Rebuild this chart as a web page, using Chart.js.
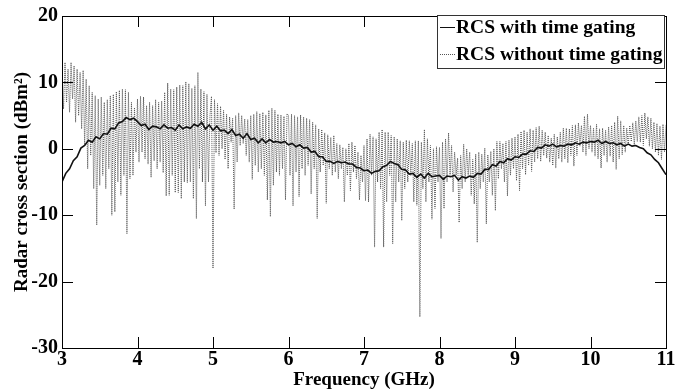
<!DOCTYPE html>
<html>
<head>
<meta charset="utf-8">
<script src="https://cdn.jsdelivr.net/npm/chart.js@4"></script>
<style>
  html, body { margin: 0; padding: 0; background: #fff; }
  canvas { display: block; }
</style>
</head>
<body>
<canvas id="rcsChart" width="688" height="391"></canvas>
<script>
// axis limits (GHz / dBm^2)
const freqMin = 3;
const freqMax = 11;
const rcsMin = -30;
const rcsMax = 20;

const seriesNames = ['RCS with time gating', 'RCS without time gating'];

// RCS with time gating, sampled every 0.05 GHz from 3 to 11 GHz (one row per GHz)
const gatedStep = 0.05;
const rcsWithGating = [
    -5.0, -3.7, -3.0, -1.8, -1.2, 0.1, 0.5, 1.3, 1.0, 1.8, 1.5, 2.3, 2.2, 3.1, 3.0, 3.9, 4.1, 4.7, 4.4, 4.6,
    4.1, 3.5, 3.7, 2.9, 3.4, 3.3, 3.0, 3.6, 3.1, 3.2, 2.8, 3.6, 3.0, 3.3, 3.1, 3.7, 3.4, 4.0, 3.0, 3.6,
    2.8, 3.4, 2.7, 2.8, 2.3, 2.9, 2.0, 2.2, 1.6, 2.3, 1.4, 1.6, 0.9, 1.5, 0.9, 1.4, 1.0, 1.1, 0.9, 1.1,
    0.6, 0.8, 0.3, 0.6, 0.1, 0.2, -0.5, -0.4, -1.2, -1.2, -1.9, -1.9, -2.2, -1.9, -2.1, -2.0, -2.3, -2.3, -2.8, -2.9,
    -3.3, -3.2, -3.7, -3.4, -3.3, -2.7, -2.5, -1.9, -2.2, -2.4, -3.1, -3.2, -3.8, -3.7, -4.3, -3.8, -4.4, -3.7, -4.2, -4.1,
    -4.0, -4.6, -4.1, -4.2, -4.0, -4.7, -4.2, -4.4, -4.1, -4.3, -3.7, -3.8, -3.1, -3.1, -2.4, -2.6, -1.9, -2.1, -1.5, -1.7,
    -1.2, -1.3, -0.8, -0.8, -0.3, -0.4, 0.2, 0.1, 0.6, 0.4, 0.7, 0.3, 0.5, 0.4, 0.7, 0.6, 0.9, 0.7, 1.0, 0.9,
    1.1, 1.0, 1.3, 0.8, 1.1, 0.8, 0.9, 0.6, 0.8, 0.4, 0.7, 0.4, 0.5, 0.2, 0.0, -0.6, -0.9, -1.6, -2.1, -3.0,
    -3.9
];

// RCS without time gating, sampled every 0.02 GHz (one row per GHz)
const rawStep = 0.02;
const rcsWithoutGating = [
    12.5, 6, 13, 7, 12, 5.5, 13, 7.5, 12.5, 4, 12, 5, 11.5, 3, 11.8, 0.5, 10.5, -3, 9.5, -1, 8.5, -6, 8, -11.5, 7.5, -5.5, 7.8, -4, 7, -6, 7.4, -3, 8, -10, 8.2, -9.5, 8.6, -5, 8.8, -7, 9, -4, 8.9, -12.8, 8.5, -4.5, 7, -4, 6.2, -0.5,
    7.5, -2, 7.9, -0.5, 7.8, -1.5, 6.5, -2.3, 7, -4.3, 6.5, -1.8, 7.4, -3, 7, -2, 7.2, -3.6, 8.5, -7.1, 9.9, -7, 9, -4, 8.9, -6.6, 9.3, -6.6, 9.6, -7.5, 9.5, -5, 10.1, -5.1, 9.8, -5, 9.1, -7.5, 9.5, -10.5, 11.5, -3, 9, -5, 8.6, -8.6, 8.2, -5, 5, 7.9,
    -18, 7.4, -0.6, 6.8, -1, 6.4, 0, 5.8, -1.6, 5.2, -3, 4.8, 1, 4.6, -9.1, 5, -2, 5.4, 0.5, 5, 0.8, 4.5, -1, 4.4, -2, 5, -4.6, 5.2, -2.5, 5.6, -3.5, 5.3, -3, 5.5, -4, 5.1, -7.7, 5.8, -10.2, 6.1, -5.5, 5.8, -3.5, 5.2, -4, 5.1, -3, 4.9, -7.7, 5.3,
    5.0, -4, 5.2, -8.6, 5.0, -3.5, 4.8, -7.2, 5.1, -3, 4.8, -4, 4.6, -2.5, 4.4, -6.8, 4.0, -3, 3.6, -10.5, 3.0, -3.5, 2.9, -2.5, 2.4, -8.2, 2.1, -3, 1.7, -4, 2.0, -3.5, 0.8, -4.5, 0.6, -3, 0.2, -8, 0.0, -4, 0.8, -6.3, 1.0, -3.5, 0.5, -4.5, -0.5, -7.7, -1.0, -5,
    0.5, -7.8, 1.5, -8, 2.2, -4, 1.8, -14.8, 1.5, -5, 2.5, -6, 2.9, -14.8, 2.5, -8, 2.5, -4, 2.0, -14.3, 1.8, -8, 1.5, -5, 1.2, -10.8, 1.0, -6, 1.3, -5, 1.2, -4, 0.8, -8, 1.2, -8.5, 1.2, -25.3, 1.0, -6, 2.9, -8, 1.5, -5, 0.5, -10.6, 0.0, -9, 0.3, -5,
    0.2, -13.5, 1.0, -9, 1.5, -5, 2.4, -4, 0.5, -6.5, -0.5, -4, -1.4, -11.1, -1, -6, 0.7, -5, 0.0, -4, -0.5, -7, -1.6, -8.3, -0.8, -14.1, -0.5, -6, -0.8, -5, 0.1, -11.3, -0.9, -5, -0.4, -7, 0.0, -9.3, 1.1, -4.5, 1.1, -3, 0.8, -5, 1.1, -7.1, 1.3, -4, 1.6, -3,
    1.8, -4.8, 2.2, -6.3, 2.6, -3, 2.8, -3.9, 2.5, -2.5, 3.0, -3.4, 2.8, -2, 3.2, -1.5, 3.4, -1.9, 2.8, -1, 2.5, -1.4, 2.0, -2, 1.6, -2.5, 2.2, -2.9, 1.8, -1.5, 2.5, -2, 3.1, -1.5, 3.1, -2.1, 3.0, -1, 3.5, -2.6, 3.6, -1, 3.9, 0.4, 3.5, -0.5, 4.9, -1, 5.2, 0,
    3.5, -0.5, 3.1, -1.1, 3.7, -1.5, 3.0, -2.9, 3.1, -1, 2.8, -2, 3.3, -1.1, 3.5, -2, 4.0, -3.1, 4.9, -1.5, 4.2, -0.9, 3.5, -0.5, 3.1, 0.5, 3.5, 1.1, 3.9, 0.5, 4.2, 1.1, 4.8, 1.0, 5.0, 0.5, 5.4, 1.5, 4.8, 0.4, 4.6, 0.0, 4.0, -0.5, 3.8, -1.0, 3.4, -1.6, 3.7, -0.5,
    3.6
];

const fontFamily = '"Liberation Serif", "Times New Roman", serif';

function toPoints(values, step) {
    return values.map((v, i) => ({ x: +(freqMin + i * step).toFixed(3), y: v }));
}

// box around the plot with inward ticks on all four sides
const frameTicks = {
    id: 'frameTicks',
    afterDatasetsDraw(chart) {
        const { ctx, chartArea: a, scales: { x, y } } = chart;
        const len = 11;
        ctx.save();
        ctx.strokeStyle = '#000';
        ctx.lineWidth = 1;
        ctx.beginPath();
        x.ticks.forEach(t => {
            const px = Math.round(x.getPixelForValue(t.value)) + 0.5;
            ctx.moveTo(px, a.bottom); ctx.lineTo(px, a.bottom - len);
            ctx.moveTo(px, a.top); ctx.lineTo(px, a.top + len);
        });
        y.ticks.forEach(t => {
            const py = Math.round(y.getPixelForValue(t.value)) + 0.5;
            ctx.moveTo(a.left, py); ctx.lineTo(a.left + len, py);
            ctx.moveTo(a.right, py); ctx.lineTo(a.right - len, py);
        });
        ctx.stroke();
        ctx.strokeRect(Math.round(a.left) + 0.5, Math.round(a.top) + 0.5,
            Math.round(a.right - a.left), Math.round(a.bottom - a.top));
        ctx.restore();
    },
    afterDraw(chart) {
        // legend box in the upper right corner, drawn over the frame
        const { ctx } = chart;
        const bx = 437, by = 15, bw = 227, bh = 53;
        ctx.save();
        ctx.fillStyle = '#fff';
        ctx.fillRect(bx, by, bw, bh);
        ctx.strokeStyle = '#333';
        ctx.lineWidth = 1;
        ctx.strokeRect(bx + 0.5, by + 0.5, bw, bh);
        const rows = [27, 54];
        chart.data.datasets.forEach((ds, i) => {
            ctx.strokeStyle = ds.borderColor;
            ctx.lineWidth = 1;
            ctx.setLineDash(ds.borderDash || []);
            ctx.beginPath();
            ctx.moveTo(440, rows[i] + 0.5);
            ctx.lineTo(455, rows[i] + 0.5);
            ctx.stroke();
            ctx.setLineDash([]);
            ctx.fillStyle = '#000';
            ctx.font = 'bold 19.5px ' + fontFamily;
            ctx.textBaseline = 'middle';
            ctx.textAlign = 'left';
            ctx.fillText(ds.label, 456, rows[i] + 1);
        });
        ctx.restore();
    }
};

new Chart(document.getElementById('rcsChart'), {
    type: 'line',
    data: {
        datasets: [{
            label: seriesNames[0],
            data: toPoints(rcsWithGating, gatedStep),
            borderColor: '#111',
            borderWidth: 1.6,
            pointRadius: 0,
            tension: 0
        }, {
            label: seriesNames[1],
            data: toPoints(rcsWithoutGating, rawStep),
            borderColor: '#555',
            borderWidth: 1,
            borderDash: [1, 1],
            pointRadius: 0,
            tension: 0
        }]
    },
    options: {
        responsive: false,
        animation: false,
        layout: { padding: { left: 0, top: 14, right: 22, bottom: 0 } },
        plugins: {
            legend: { display: false },
            tooltip: { enabled: false }
        },
        scales: {
            x: {
                type: 'linear',
                min: freqMin,
                max: freqMax,
                afterFit: s => { s.height = 43; },
                grid: { display: false, drawTicks: false },
                border: { display: false },
                ticks: {
                    stepSize: 1,
                    padding: 0,
                    color: '#000',
                    font: { family: fontFamily, size: 20, weight: 'bold' }
                },
                title: {
                    display: true,
                    text: 'Frequency (GHz)',
                    color: '#000',
                    padding: { top: 0, bottom: 0 },
                    font: { family: fontFamily, size: 19, weight: 'bold' }
                }
            },
            y: {
                min: rcsMin,
                max: rcsMax,
                afterFit: s => { s.width = 62; },
                grid: { display: false, drawTicks: false },
                border: { display: false },
                ticks: {
                    stepSize: 10,
                    padding: 4,
                    color: '#000',
                    font: { family: fontFamily, size: 20, weight: 'bold' }
                },
                title: {
                    display: true,
                    text: 'Radar cross section (dBm²)',
                    color: '#000',
                    padding: { top: 11, bottom: 0 },
                    font: { family: fontFamily, size: 19, weight: 'bold' }
                }
            }
        }
    },
    plugins: [frameTicks]
});
</script>
</body>
</html>
